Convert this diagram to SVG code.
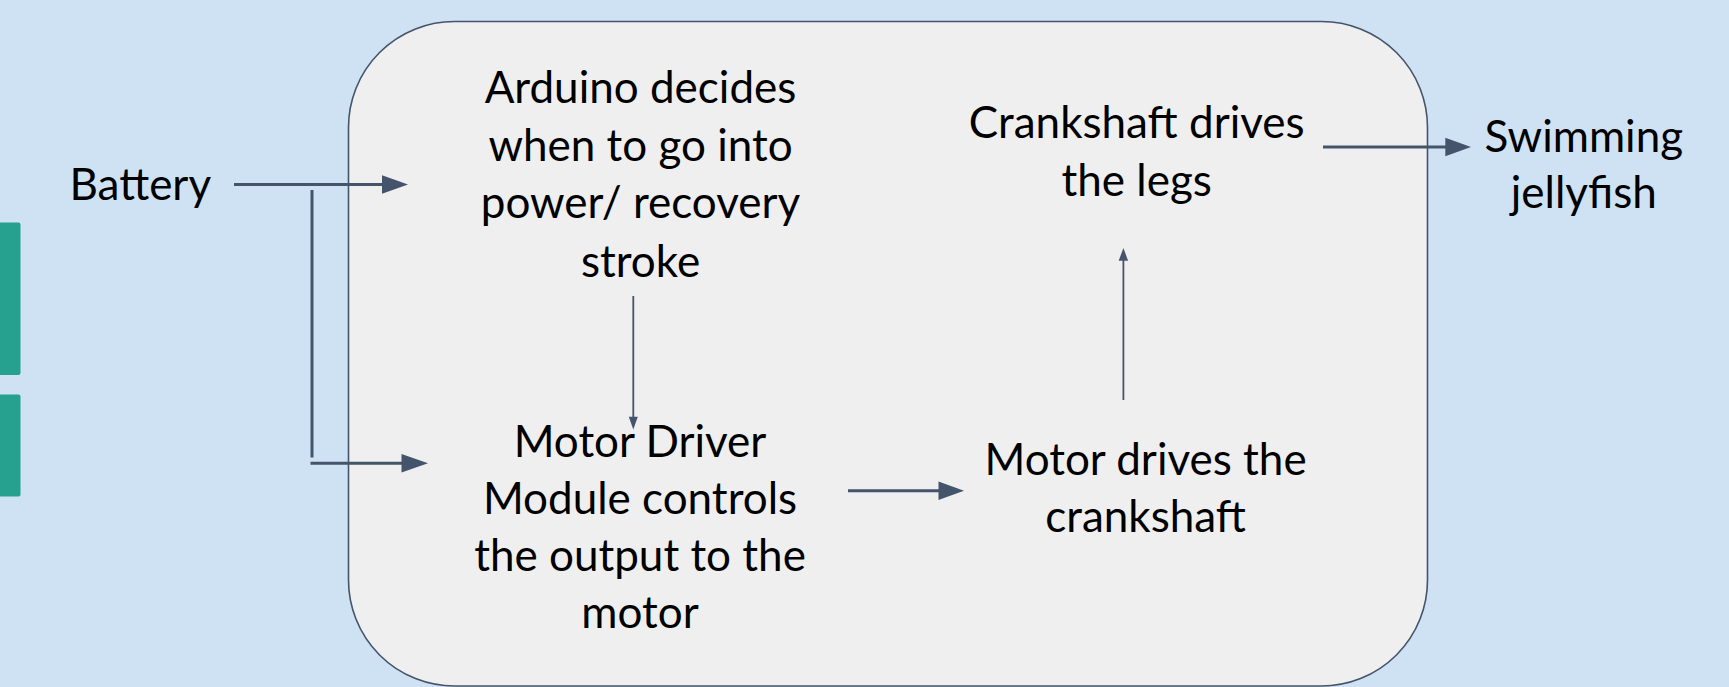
<svg xmlns="http://www.w3.org/2000/svg" width="1729" height="687" viewBox="0 0 1729 687">
  <style>
    .lbl { font-family: Lato, "Liberation Sans", sans-serif; font-size: 44px; fill: #000; text-anchor: middle; }
    .thick { stroke: #44546a; stroke-width: 3; fill: none; }
    .thin { stroke: #44546a; stroke-width: 1.8; fill: none; }
    .head { fill: #44546a; }
  </style>

  <!-- slide background -->
  <rect x="0" y="0" width="1729" height="687" fill="#cfe2f3"/>

  <!-- teal tabs on the left edge -->
  <g id="tabs" fill="#26a08f">
    <rect x="-6" y="222.5" width="26.5" height="152.5" rx="2"/>
    <rect x="-6" y="394.5" width="26.5" height="102" rx="2"/>
  </g>

  <!-- rounded container around the controller chain -->
  <g id="container">
    <rect x="348.5" y="21.5" width="1079" height="664.5" rx="106" ry="106" fill="#efefef" stroke="#44546a" stroke-width="1.6"/>
  </g>

  <!-- connectors -->
  <g id="connectors">
    <!-- battery to arduino -->
    <line class="thick" x1="234" y1="184.5" x2="384" y2="184.5"/>
    <polygon class="head" points="382,175.3 408,184.5 382,193.7"/>
    <!-- battery branch down to motor driver -->
    <line class="thick" x1="312" y1="190" x2="312" y2="457.5"/>
    <line class="thick" x1="310.5" y1="463.3" x2="403" y2="463.3"/>
    <polygon class="head" points="401.5,454 428,463.3 401.5,472.6"/>
    <!-- arduino to motor driver -->
    <line class="thin" x1="633.3" y1="296" x2="633.3" y2="418"/>
    <polygon class="head" points="628.8,416.7 637.8,416.7 633.3,429.5"/>
    <!-- motor driver to motor -->
    <line class="thick" x1="848" y1="490.7" x2="940" y2="490.7"/>
    <polygon class="head" points="938.5,481.5 964,490.7 938.5,499.9"/>
    <!-- motor to crankshaft -->
    <line class="thin" x1="1123.4" y1="400" x2="1123.4" y2="259"/>
    <polygon class="head" points="1118.7,260.7 1128.1,260.7 1123.4,248"/>
    <!-- crankshaft to swimming jellyfish -->
    <line class="thick" x1="1323" y1="147" x2="1447" y2="147"/>
    <polygon class="head" points="1445.3,137.8 1471,147 1445.3,156.2"/>
  </g>

  <!-- nodes -->
  <g id="battery">
    <text class="lbl" x="140.3" y="200">Battery</text>
  </g>

  <g id="arduino">
    <text class="lbl" x="640.5" y="103.3">Arduino decides</text>
    <text class="lbl" x="640.5" y="160.5">when to go into</text>
    <text class="lbl" x="640.5" y="218">power/ recovery</text>
    <text class="lbl" x="640.5" y="276.5">stroke</text>
  </g>

  <g id="motor-driver">
    <text class="lbl" x="640" y="457.3">Motor Driver</text>
    <text class="lbl" x="640" y="514">Module controls</text>
    <text class="lbl" x="640" y="571">the output to the</text>
    <text class="lbl" x="640" y="628.3">motor</text>
  </g>

  <g id="motor">
    <text class="lbl" x="1145.6" y="475">Motor drives the</text>
    <text class="lbl" x="1145.6" y="531.7">crankshaft</text>
  </g>

  <g id="crankshaft">
    <text class="lbl" x="1136.7" y="137.5">Crankshaft drives</text>
    <text class="lbl" x="1136.7" y="196">the legs</text>
  </g>

  <g id="jellyfish">
    <text class="lbl" x="1583.8" y="151.7">Swimming</text>
    <text class="lbl" x="1583.8" y="208.3">jellyfish</text>
  </g>
</svg>
